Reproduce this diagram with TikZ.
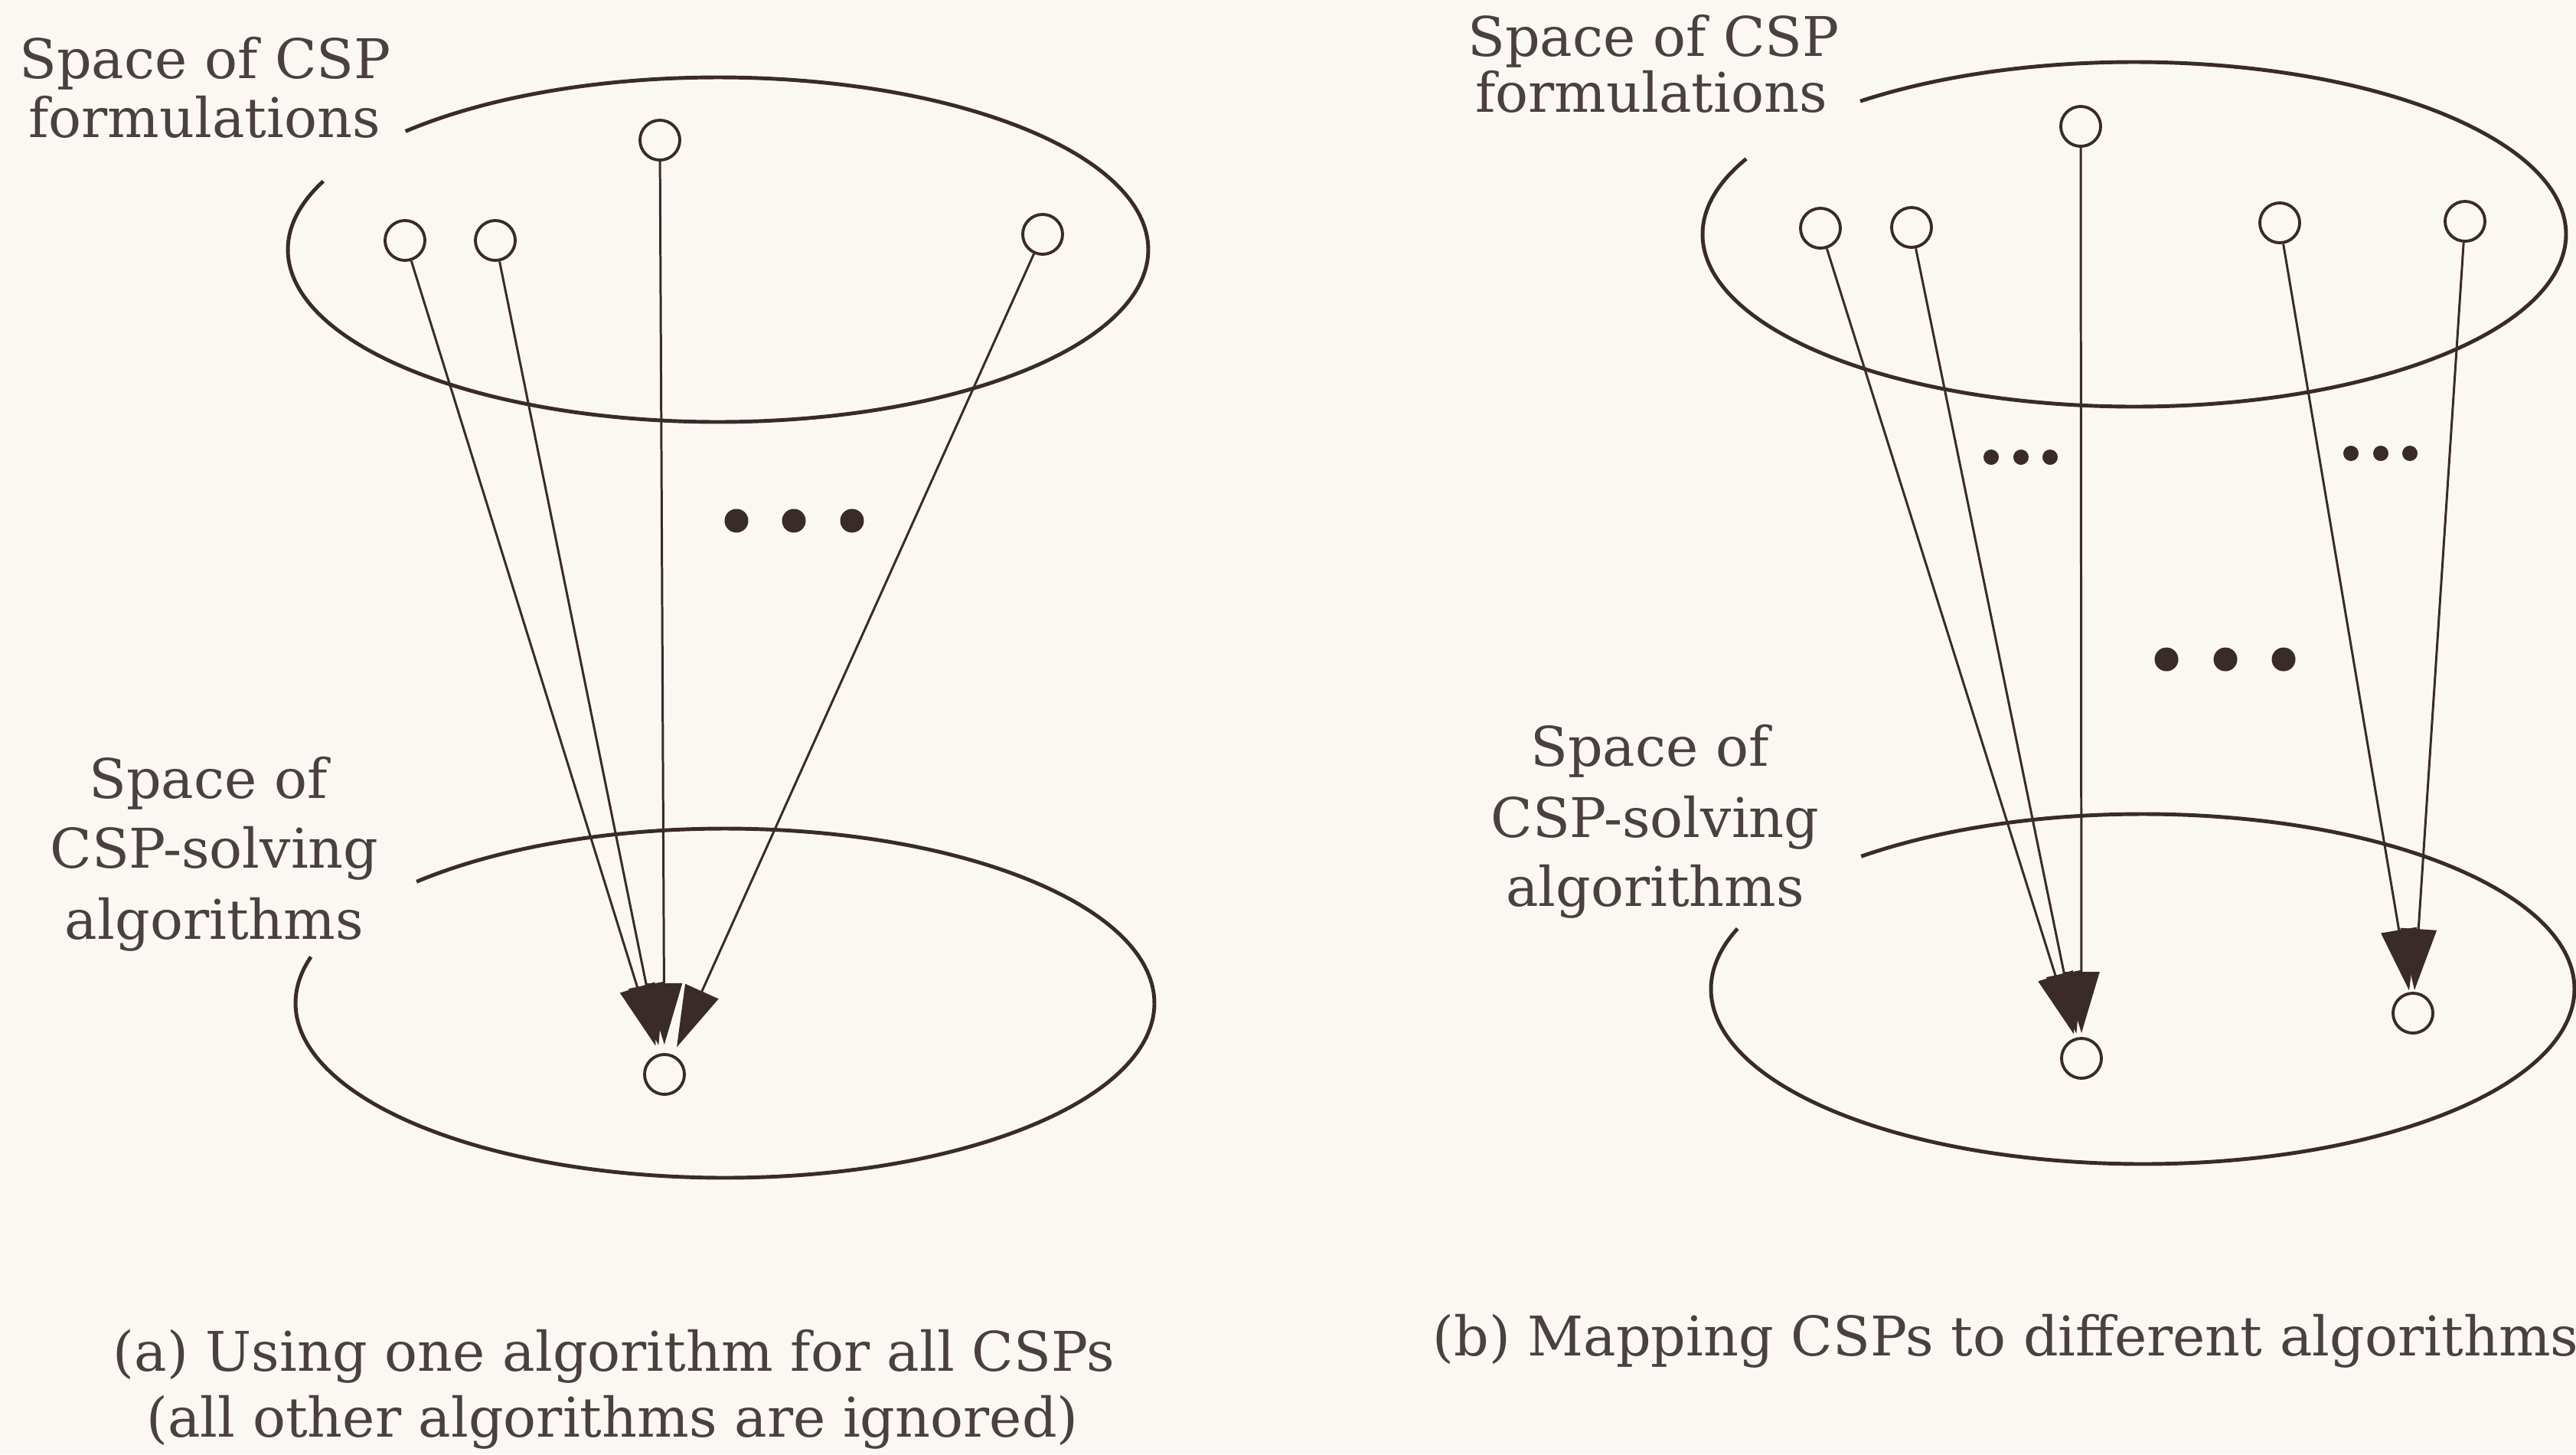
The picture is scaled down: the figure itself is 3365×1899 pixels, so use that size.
\documentclass[tikz,border=0pt]{standalone}
\usepackage{fontspec}
\setmainfont{DejaVu Serif}
\usetikzlibrary{arrows.meta}
\definecolor{ink}{RGB}{58,42,42}
\definecolor{txt}{RGB}{74,64,64}
\definecolor{paper}{RGB}{251,248,243}
\tikzset{
  pt/.style={circle, draw=ink, line width=1.1pt, fill=paper, minimum size=0.52cm, inner sep=0pt},
  conn/.style={draw=ink, line width=0.85pt, -{Triangle[length=0.8cm, width=0.47cm]}},
  spacebd/.style={draw=ink, line width=1.4pt},
  lab/.style={font=\fontsize{20.3}{22}\selectfont, text=txt, inner sep=0pt, anchor=base},
  bigdot/.style={circle, fill=ink, minimum size=0.31cm, inner sep=0pt},
  smalldot/.style={circle, fill=ink, minimum size=0.2cm, inner sep=0pt}
}
\begin{document}
\begin{tikzpicture}[x=0.01cm, y=-0.01cm]
\fill[paper] (0,0) rectangle (3365,1899);
\useasboundingbox (0,0) rectangle (3365,1899);

% ---------- panel (a) ----------
\draw[spacebd] (938,326) ++(223.4:562 and 225) arc[start angle=223.4, end angle=563.4, x radius=562, y radius=225];
\draw[spacebd] (947,1310) ++(224.1:561 and 228) arc[start angle=224.1, end angle=555.4, x radius=561, y radius=228];

\node[pt] (a1) at (529,314) {};
\node[pt] (a2) at (647,314) {};
\node[pt] (a3) at (862,183) {};
\node[pt] (a4) at (1362,306) {};
\node[pt] (b0) at (868,1403) {};

\draw[conn, shorten >=0.11cm] (a1) -- (b0);
\draw[conn, shorten >=0.11cm] (a2) -- (b0);
\draw[conn, shorten >=0.11cm] (a3) -- (b0);
\draw[conn, shorten >=0.11cm] (a4) -- (b0);

\node[bigdot] (ad1) at (962,680) {};
\node[bigdot] (ad2) at (1037,680) {};
\node[bigdot] (ad3) at (1113,680) {};

\node[lab] (la1) at (268,102) {Space of CSP};
\node[lab] (la2) at (267,179) {formulations};
\node[lab] (lb1) at (272,1042) {Space of};
\node[lab] (lb2) at (280,1133) {CSP-solving};
\node[lab] (lb3) at (280,1226) {algorithms};

\node[lab] (capa1) at (802,1790) {(a) Using one algorithm for all CSPs};
\node[lab] (capa2) at (800,1876) {(all other algorithms are ignored)};

% ---------- panel (b) ----------
\draw[spacebd] (2788,306) ++(230.6:564 and 225) arc[start angle=230.6, end angle=566, x radius=564, y radius=225];
\draw[spacebd] (2799,1291.5) ++(229.3:564 and 228.5) arc[start angle=229.3, end angle=560.2, x radius=564, y radius=228.5];

\node[pt] (c1) at (2378,298) {};
\node[pt] (c2) at (2497,297) {};
\node[pt] (c3) at (2718,165) {};
\node[pt] (c4) at (2978,291) {};
\node[pt] (c5) at (3220,289) {};
\node[pt] (d1) at (2719,1382) {};
\node[pt] (d2) at (3152,1323) {};

\draw[conn, shorten >=0.05cm] (c1) -- (d1);
\draw[conn, shorten >=0.05cm] (c2) -- (d1);
\draw[conn, shorten >=0.05cm] (c3) -- (d1);
\draw[conn, shorten >=0.02cm] (c4) -- (d2);
\draw[conn, shorten >=0.02cm] (c5) -- (d2);

\node[smalldot] (bs1) at (2601,597) {};
\node[smalldot] (bs2) at (2640,597) {};
\node[smalldot] (bs3) at (2678,597) {};
\node[smalldot] (bt1) at (3071,592) {};
\node[smalldot] (bt2) at (3110,592) {};
\node[smalldot] (bt3) at (3148,592) {};

\node[bigdot] (bd1) at (2830,861) {};
\node[bigdot] (bd2) at (2907,861) {};
\node[bigdot] (bd3) at (2983,861) {};

\node[lab] (lc1) at (2160,73) {Space of CSP};
\node[lab] (lc2) at (2157,146) {formulations};
\node[lab] (ld1) at (2155,1000) {Space of};
\node[lab] (ld2) at (2162,1093) {CSP-solving};
\node[lab] (ld3) at (2162,1183) {algorithms};

\node[lab] (capb) at (2620,1770) {(b) Mapping CSPs to different algorithms};
\end{tikzpicture}
\end{document}
